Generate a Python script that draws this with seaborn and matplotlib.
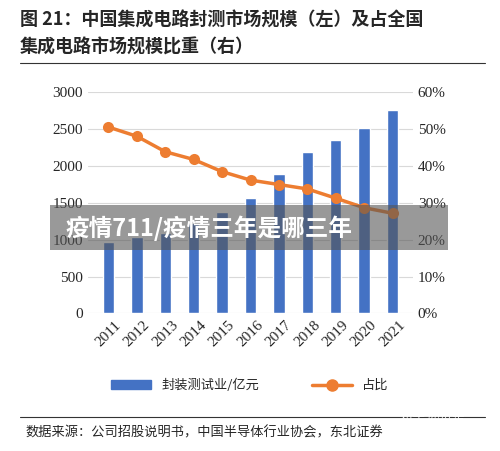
import matplotlib
matplotlib.use("Agg")
import matplotlib.pyplot as plt
import seaborn as sns
import pandas as pd
from matplotlib.lines import Line2D
from matplotlib.patches import Patch, Rectangle

years = ["2011", "2012", "2013", "2014", "2015", "2016", "2017", "2018", "2019", "2020", "2021"]
market = [976, 1044, 1098, 1230, 1380, 1565, 1889, 2195, 2350, 2515, 2762]
share = [50.6, 48.1, 43.9, 41.8, 38.5, 36.2, 35.0, 33.8, 31.3, 28.7, 27.2]

sns.set_theme(style="white")
plt.rcParams['font.family'] = ['Noto Sans CJK SC', 'DejaVu Sans']

df = pd.DataFrame({"year": years, "market": market, "share": share})

fig = plt.figure(figsize=(5, 4.51), dpi=100)
ax = fig.add_axes([0.176, 0.305, 0.65, 0.49])
sns.barplot(data=df, x="year", y="market", color="#4472C4", width=0.4, saturation=1, ax=ax)
ax.set_ylim(0, 3000)
ax.set_yticks(range(0, 3001, 500))
ax.yaxis.grid(True, color="#d9d9d9", lw=0.8)
ax.set_axisbelow(True)
ax.set_xlabel("")
ax.set_ylabel("")
for s in ax.spines.values():
    s.set_visible(False)
ax.tick_params(axis="both", length=0, labelsize=11)
for lab in ax.get_yticklabels():
    lab.set_fontfamily("Liberation Serif")
for lab in ax.get_xticklabels():
    lab.set_fontfamily("Liberation Serif")
    lab.set_rotation(45)

ax2 = ax.twinx()
sns.lineplot(x=range(len(years)), y=share, color="#ED7D31", lw=2.5, marker="o",
             markersize=8, markeredgewidth=0, ax=ax2)
ax2.set_ylim(0, 60)
ax2.set_yticks(range(0, 61, 10))
ax2.set_yticklabels([f"{v}%" for v in range(0, 61, 10)], fontfamily="Liberation Serif", fontsize=11)
ax2.tick_params(length=0)
for s in ax2.spines.values():
    s.set_visible(False)

fig.text(0.04, 0.955, "图 21：中国集成电路封测市场规模（左）及占全国", fontsize=13, fontweight="bold", va="center")
fig.text(0.04, 0.895, "集成电路市场规模比重（右）", fontsize=13, fontweight="bold", va="center")
fig.add_artist(Line2D([0.04, 0.97], [0.86, 0.86], color="#333333", lw=0.8))

handles = [Patch(color="#4472C4"),
           Line2D([], [], color="#ED7D31", lw=2.5, marker="o", markersize=8)]
fig.legend(handles, ["封装测试业/亿元", "占比"], loc="center", bbox_to_anchor=(0.5, 0.145),
           ncol=2, frameon=False, fontsize=9.5, columnspacing=4, handlelength=3)

fig.add_artist(Line2D([0.04, 0.97], [0.075, 0.075], color="#333333", lw=0.8))
fig.text(0.05, 0.04, "数据来源：公司招股说明书，中国半导体行业协会，东北证券", fontsize=9.5, va="center")
fig.text(0.8, 0.075, "知乎 @贝是", fontsize=9, color="white", va="center", alpha=0.9)

fig.add_artist(Rectangle((0.1, 0.445), 0.795, 0.1, transform=fig.transFigure,
                         color="#555555", alpha=0.6, lw=0))
fig.text(0.13, 0.495, "疫情711/疫情三年是哪三年", fontsize=17, fontweight="bold", color="white", va="center")

fig.savefig("out.png", dpi=100)
